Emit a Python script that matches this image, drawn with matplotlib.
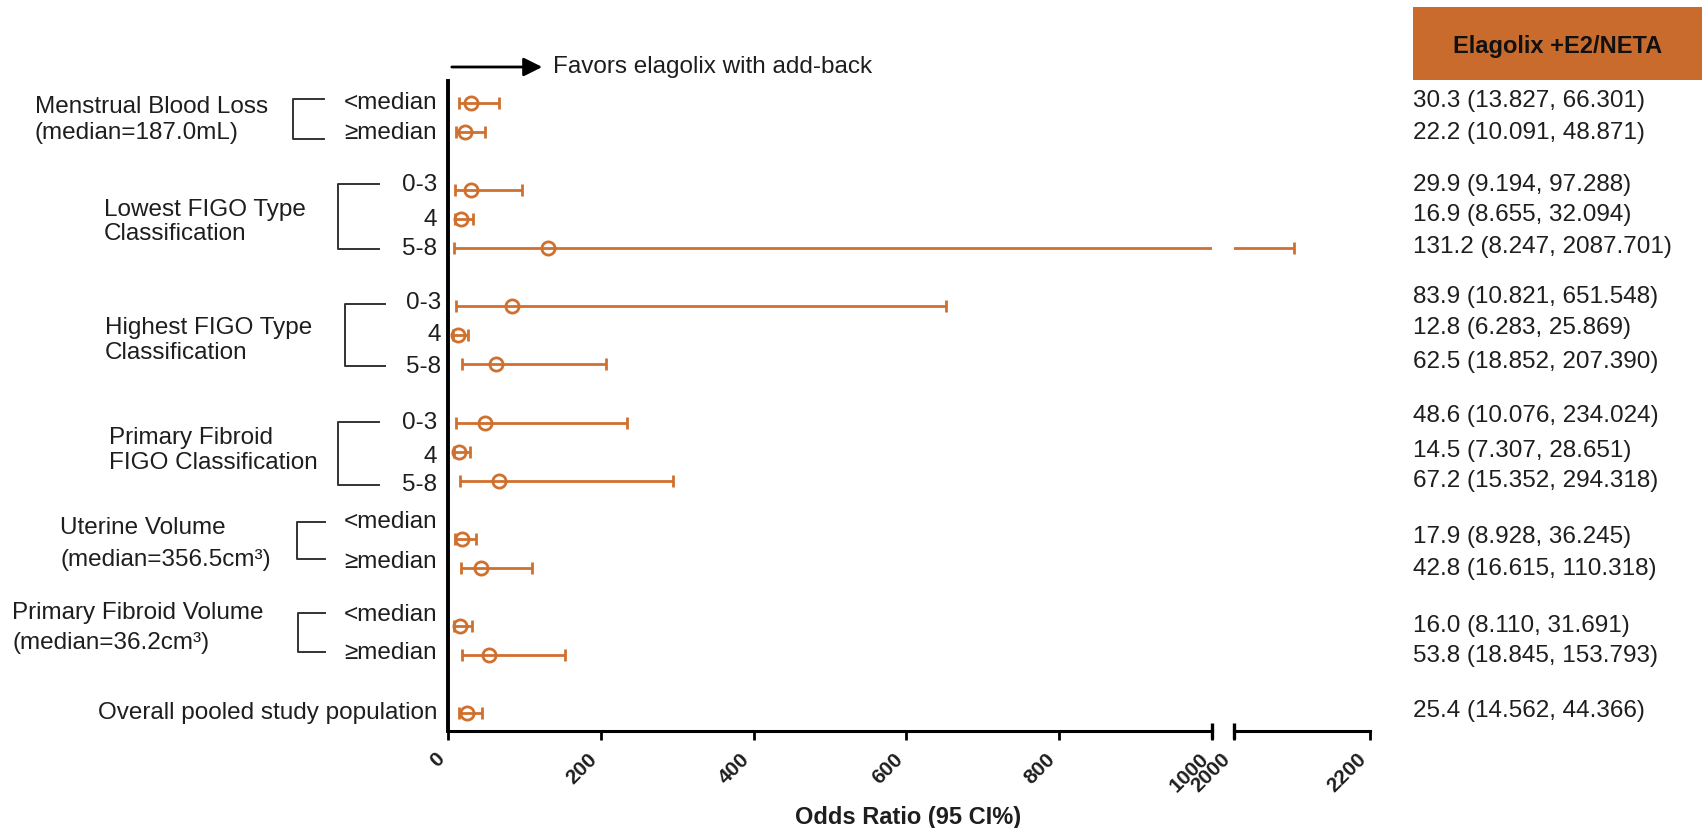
import matplotlib
matplotlib.use("Agg")
import matplotlib.pyplot as plt
from matplotlib.patches import Rectangle, FancyArrowPatch
from matplotlib.lines import Line2D

plt.rcParams['font.family'] = ['Liberation Sans', 'DejaVu Sans']

# ---------------- data ----------------
group_names = [
    ("Menstrual Blood Loss", "(median=187.0mL)"),
    ("Lowest FIGO Type", "Classification"),
    ("Highest FIGO Type", "Classification"),
    ("Primary Fibroid", "FIGO Classification"),
    ("Uterine Volume", "(median=356.5cm³)"),
    ("Primary Fibroid Volume", "(median=36.2cm³)"),
    ("", ""),
]
subgroup_labels = [
    ["<median", "≥median"],
    ["0-3", "4", "5-8"],
    ["0-3", "4", "5-8"],
    ["0-3", "4", "5-8"],
    ["<median", "≥median"],
    ["<median", "≥median"],
    ["Overall pooled study population"],
]
odds_ratio = [30.3, 22.2, 29.9, 16.9, 131.2, 83.9, 12.8, 62.5,
              48.6, 14.5, 67.2, 17.9, 42.8, 16.0, 53.8, 25.4]
ci_low = [13.827, 10.091, 9.194, 8.655, 8.247, 10.821, 6.283, 18.852,
          10.076, 7.307, 15.352, 8.928, 16.615, 8.110, 18.845, 14.562]
ci_high = [66.301, 48.871, 97.288, 32.094, 2087.701, 651.548, 25.869, 207.390,
           234.024, 28.651, 294.318, 36.245, 110.318, 31.691, 153.793, 44.366]
ticks_left = [0, 200, 400, 600, 800, 1000]
ticks_right = [2000, 2200]
header = "Elagolix +E2/NETA"
xlabel = "Odds Ratio (95 CI%)"
favors = "Favors elagolix with add-back"

# ---------------- layout ----------------
W, H = 1707, 829
ORANGE = "#D0702E"
BOX = "#C96B2D"
TXT = "#1e1e1e"
FS = 17.5


def fx(x):
    return x / W


def fy(y):
    return 1 - y / H


fig = plt.figure(figsize=(W / 100, H / 100), dpi=100)
fig.patch.set_facecolor("white")

ax_top, ax_bot = 82, 732
x0, x1000, x2000, x2200 = 448, 1212, 1234, 1370
ax1 = fig.add_axes([fx(x0), fy(ax_bot), (x1000 - x0) / W, (ax_bot - ax_top) / H])
ax2 = fig.add_axes([fx(x2000), fy(ax_bot), (x2200 - x2000) / W, (ax_bot - ax_top) / H])

# row positions from group sizes (one empty row between groups)
rows = []
r = 0
group_rows = []
for labs in subgroup_labels:
    g = []
    for _ in labs:
        rows.append(r)
        g.append(r)
        r += 1
    group_rows.append(g)
    r += 1

row0_px, row_px = 104, (714 - 104) / 21.0
y_top = (ax_top - row0_px) / row_px
y_bot = (ax_bot - row0_px) / row_px

xerr = [[o - l for o, l in zip(odds_ratio, ci_low)],
        [h - o for o, h in zip(odds_ratio, ci_high)]]

for ax, lim in ((ax1, (0, 1000)), (ax2, (2000, 2200))):
    ax.errorbar(odds_ratio, rows, xerr=xerr, fmt='o', color=ORANGE,
                mfc='none', mec=ORANGE, ms=9.5, mew=2.0,
                elinewidth=2.0, capsize=4.5, capthick=2.0)
    ax.set_xlim(*lim)
    ax.set_ylim(y_bot, y_top)
    ax.set_yticks([])
    for s in ("top", "right"):
        ax.spines[s].set_visible(False)
    ax.spines["bottom"].set_linewidth(2.2)
    ax.tick_params(axis='x', length=6.5, width=2.0, direction='out', pad=6,
                   labelsize=15)
    ax.set_facecolor("none")

ax1.spines["left"].set_linewidth(2.8)
ax2.spines["left"].set_visible(False)
ax1.set_xticks(ticks_left)
ax2.set_xticks(ticks_right)
for ax in (ax1, ax2):
    for lab in ax.get_xticklabels():
        lab.set_rotation(45)
        lab.set_ha('right')
        lab.set_va('top')
        lab.set_fontweight('bold')
        lab.set_color(TXT)

# break bars at the ends of the split axis
ax1.plot([1000], [0], marker='|', ms=11, mew=2.4, color='black',
         transform=ax1.get_xaxis_transform(), clip_on=False)
ax2.plot([2000], [0], marker='|', ms=11, mew=2.4, color='black',
         transform=ax2.get_xaxis_transform(), clip_on=False)

# x label
fig.text(fx(908), fy(818), xlabel, ha='center', va='center',
         fontsize=17, fontweight='bold', color=TXT)

# favors arrow
fig.add_artist(FancyArrowPatch(
    (fx(449), fy(68)), (fx(545), fy(68)), transform=fig.transFigure,
    arrowstyle='-|>', mutation_scale=28, color='black', lw=2.0))
fig.text(fx(553), fy(67), favors, ha='left', va='center', fontsize=FS, color=TXT)

# subgroup labels (right aligned next to the axis)
sub_dy = [[-1, 0], [-6, 0, 0], [-4, -1, 2], [-1, 4, 3], [-18, -7], [-12, -3], [-1]]
sub_x = [437, 437, 441, 437, 437, 437, 437]
for gi, labs in enumerate(subgroup_labels):
    for li, lab in enumerate(labs):
        ypx = row0_px + group_rows[gi][li] * row_px + sub_dy[gi][li]
        fig.text(fx(sub_x[gi]), fy(ypx), lab, ha='right', va='center',
                 fontsize=FS, color=TXT)

# group labels and brackets
grp_x = [35, 104, 105, 109, 60, 12]
grp_y = [(107, 133), (210, 234), (328, 353), (438, 463), (528, 560), (613, 643)]
brk = [(293, 324, 100, 140), (338, 379, 185, 250), (345, 385, 305, 367),
       (338, 379, 423, 486), (297, 325, 523, 560), (298, 325, 614, 653)]
for gi in range(6):
    l1, l2 = group_names[gi]
    fig.text(fx(grp_x[gi]), fy(grp_y[gi][0]), l1, ha='left', va='center',
             fontsize=FS, color=TXT)
    fig.text(fx(grp_x[gi]), fy(grp_y[gi][1]), l2, ha='left', va='center',
             fontsize=FS, color=TXT)
    bx, bx2, by1, by2 = brk[gi]
    fig.add_artist(Line2D([fx(bx2), fx(bx), fx(bx), fx(bx2)],
                          [fy(by1), fy(by1), fy(by2), fy(by2)],
                          transform=fig.transFigure, color='#333333', lw=1.4))

# header box
fig.patches.append(Rectangle((fx(1413), fy(81)), (1702 - 1413) / W, (81 - 8) / H,
                             transform=fig.transFigure, facecolor=BOX,
                             edgecolor='none', zorder=0))
fig.text(fx(1558), fy(46), header, ha='center', va='center', fontsize=17,
         fontweight='bold', color='#111111')

# values column
val_dy = [-3, 0, -6, -5, -2, -10, -8, -3, -8, -2, -1, -3, 0, -1, 0, -3]
for i, (o, l, h) in enumerate(zip(odds_ratio, ci_low, ci_high)):
    ypx = row0_px + rows[i] * row_px + val_dy[i]
    fig.text(fx(1413), fy(ypx), f"{o:.1f} ({l:.3f}, {h:.3f})", ha='left',
             va='center', fontsize=FS, color=TXT)

fig.savefig("out.png", dpi=100)
